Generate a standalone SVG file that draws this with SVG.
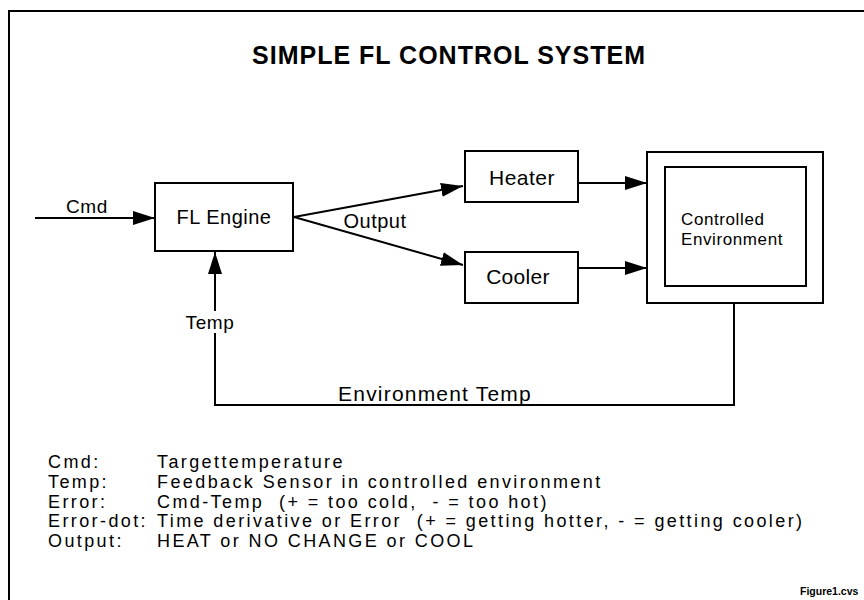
<svg xmlns="http://www.w3.org/2000/svg" width="864" height="600" viewBox="0 0 864 600">
<style>
  .t { font-family: "Liberation Sans", Arial, sans-serif; fill: #000; }
  .box { fill: #fff; stroke: #000; stroke-width: 2; }
  .ln { fill: none; stroke: #000; stroke-width: 2; }
  .lg { font-size: 18px; letter-spacing: 2.4px; }
</style>
<defs>
  <marker id="ah" markerUnits="userSpaceOnUse" markerWidth="22" markerHeight="14" refX="22" refY="7" orient="auto">
    <path d="M0,0 L22,7 L0,14 Z" fill="#000"/>
  </marker>
</defs>
<rect width="864" height="600" fill="#fff"/>
<g id="frame">
  <path class="ln" d="M9,600 L9,11 L864,11" stroke-width="2.5"/>
</g>
<text id="title" class="t" x="449" y="64" font-size="25" font-weight="bold" text-anchor="middle" letter-spacing="1">SIMPLE FL CONTROL SYSTEM</text>
<g id="connectors">
  <line class="ln" x1="35" y1="218" x2="155" y2="218" marker-end="url(#ah)"/>
  <line class="ln" x1="294" y1="217" x2="463" y2="186" marker-end="url(#ah)"/>
  <line class="ln" x1="294" y1="217" x2="463" y2="265" marker-end="url(#ah)"/>
  <line class="ln" x1="578" y1="183" x2="647" y2="183" marker-end="url(#ah)"/>
  <line class="ln" x1="578" y1="268" x2="647" y2="268" marker-end="url(#ah)"/>
  <polyline class="ln" points="734,303 734,405 215,405 215,252" marker-end="url(#ah)"/>
  <text class="t" x="87" y="213" font-size="19" text-anchor="middle" letter-spacing="0.6">Cmd</text>
  <text class="t" x="375" y="228" font-size="20" text-anchor="middle" letter-spacing="0.5">Output</text>
  <rect x="183" y="311" width="55" height="22" fill="#fff"/>
  <text class="t" x="210" y="329" font-size="19" text-anchor="middle" letter-spacing="0.6">Temp</text>
  <text class="t" x="435" y="401" font-size="21" text-anchor="middle" letter-spacing="1.2">Environment Temp</text>
</g>
<g id="fl-engine">
  <rect class="box" x="155" y="183" width="138" height="68"/>
  <text class="t" x="224" y="224" font-size="20" text-anchor="middle" letter-spacing="0.5">FL Engine</text>
</g>
<g id="heater">
  <rect class="box" x="465" y="151" width="113" height="51"/>
  <text class="t" x="522" y="185" font-size="21" text-anchor="middle" letter-spacing="0.5">Heater</text>
</g>
<g id="cooler">
  <rect class="box" x="465" y="252" width="113" height="51"/>
  <text class="t" x="518" y="284" font-size="21" text-anchor="middle" letter-spacing="0.3">Cooler</text>
</g>
<g id="controlled-environment">
  <rect class="box" x="647" y="152" width="176" height="151"/>
  <rect class="box" x="665" y="167" width="141" height="119"/>
  <text class="t" x="681" y="225" font-size="17" letter-spacing="0.6">Controlled</text>
  <text class="t" x="681" y="245" font-size="17" letter-spacing="0.6">Environment</text>
</g>
<g id="legend" class="t lg">
  <text x="48" y="468">Cmd:</text>
  <text x="157" y="468">Targettemperature</text>
  <text x="48" y="488">Temp:</text>
  <text x="157" y="488">Feedback Sensor in controlled environment</text>
  <text x="48" y="507.5">Error:</text>
  <text x="157" y="507.5" xml:space="preserve">Cmd-Temp  (+ = too cold,  - = too hot)</text>
  <text x="48" y="527">Error-dot:</text>
  <text x="157" y="527" xml:space="preserve">Time derivative or Error  (+ = getting hotter, - = getting cooler)</text>
  <text x="48" y="546.5">Output:</text>
  <text x="157" y="546.5">HEAT or NO CHANGE or COOL</text>
</g>
<text id="figname" class="t" x="800" y="595" font-size="10.5" font-weight="bold">Figure1.cvs</text>
</svg>
